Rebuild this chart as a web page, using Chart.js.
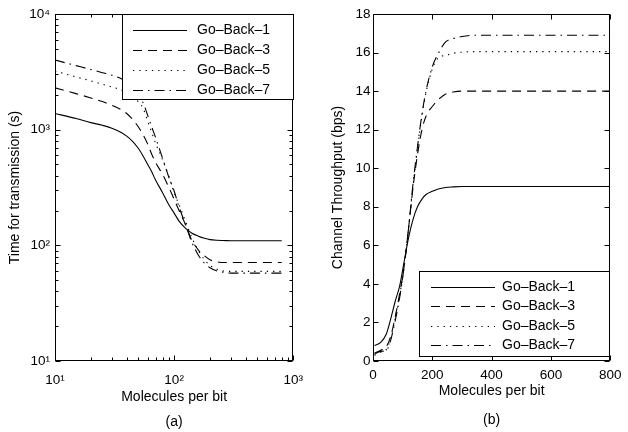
<!DOCTYPE html>
<html>
<head>
<meta charset="utf-8">
<script src="https://cdn.jsdelivr.net/npm/chart.js@4"></script>
<style>
html,body{margin:0;padding:0;background:#fff;}
#wrap{position:relative;width:628px;height:432px;overflow:hidden;background:#fff;}
canvas{position:absolute;top:0;}
#ca{left:0;}
#cb{left:314px;}
</style>
</head>
<body>
<div id="wrap">
<canvas id="ca" width="314" height="432"></canvas>
<canvas id="cb" width="314" height="432"></canvas>
</div>
<script>
// ---------- data: panel (a) ----------
const moleculesA = [10, 15, 20, 25, 30, 35, 40, 45, 50, 55, 60, 65, 70, 80, 90, 100, 110, 125, 140, 160, 180, 200, 230, 260, 300, 400, 600, 800];
const timeGB1 = [1380, 1250, 1150, 1090, 1030, 960, 880, 790, 690, 590, 500, 430, 365, 285, 225, 190, 162, 140, 128, 120, 115, 112, 110.5, 110, 109.5, 109.5, 109.5, 109.5];
const timeGB3 = [2300, 2050, 1880, 1750, 1620, 1510, 1380, 1220, 1060, 900, 750, 610, 520, 410, 320, 250, 200, 150, 112, 91, 81, 75, 72, 71, 71, 71, 71, 71];
const timeGB5 = [3210, 2860, 2640, 2470, 2340, 2230, 2080, 1900, 1750, 1520, 1180, 940, 760, 550, 400, 285, 225, 160, 118, 90, 75, 67, 62, 60, 59.5, 59.5, 59.5, 59.5];
const timeGB7 = [4000, 3580, 3310, 3110, 2960, 2800, 2600, 2350, 2050, 1700, 1330, 1050, 850, 565, 392, 295, 215, 150, 108, 82, 70, 64, 60, 58.5, 57.5, 57.5, 57.5, 57.5];

// ---------- data: panel (b) ----------
const moleculesB = [5, 25, 45, 60, 75, 90, 105, 120, 135, 150, 165, 180, 200, 220, 245, 270, 300, 350, 400, 500, 600, 700, 800];
const thrGB1 = [0.8, 0.95, 1.4, 2.2, 3.1, 3.9, 5.15, 6.4, 7.35, 8.0, 8.4, 8.65, 8.8, 8.92, 9.0, 9.03, 9.05, 9.05, 9.05, 9.05, 9.05, 9.05, 9.05];
const thrGB3 = [0.4, 0.55, 0.75, 1.3, 2.3, 3.5, 4.9, 6.9, 9.0, 10.7, 12.0, 12.75, 13.2, 13.55, 13.85, 13.95, 14.0, 14.0, 14.0, 14.0, 14.0, 14.0, 14.0];
const thrGB5 = [0.3, 0.45, 0.6, 1.2, 2.2, 3.4, 4.9, 6.9, 9.1, 11.0, 12.7, 14.0, 15.15, 15.72, 15.85, 15.96, 16.02, 16.05, 16.05, 16.05, 16.05, 16.05, 16.05];
const thrGB7 = [0.35, 0.5, 0.55, 1.1, 2.1, 3.3, 4.9, 6.9, 9.2, 11.1, 12.8, 14.1, 15.26, 15.95, 16.55, 16.72, 16.83, 16.9, 16.9, 16.9, 16.9, 16.9, 16.9];

// ---------- labels / ticks ----------
const seriesNames = ['Go\u2013Back\u20131', 'Go\u2013Back\u20133', 'Go\u2013Back\u20135', 'Go\u2013Back\u20137'];
const xTicksA = [10, 100, 1000];
const xTickLabelsA = ['10\u00B9', '10\u00B2', '10\u00B3'];
const yTicksA = [10, 100, 1000, 10000];
const yTickLabelsA = ['10\u00B9', '10\u00B2', '10\u00B3', '10\u2074'];
const xTicksB = [0, 200, 400, 600, 800];
const yTicksB = [0, 2, 4, 6, 8, 10, 12, 14, 16, 18];
const xTitleA = ['Molecules per bit', '(a)'];
const yTitleA = 'Time for transmission (s)';
const xTitleB = ['Molecules per bit', '(b)'];
const yTitleB = 'Channel Throughput (bps)';

// ---------- styles ----------
const dashes = [[], [9, 6], [1.3, 5], [10, 5, 1.5, 5]];
const FONT = "'Liberation Sans', Arial, Helvetica, sans-serif";
Chart.defaults.font.family = FONT;
Chart.defaults.color = '#000';

function minorLog(majors) {
  const out = [];
  for (let i = 0; i < majors.length - 1; i++) {
    for (let k = 2; k <= 9; k++) out.push(majors[i] * k);
  }
  return out;
}

const framePlugin = {
  id: 'frame',
  afterDatasetsDraw(chart, args, o) {
    const {ctx, chartArea: a} = chart;
    const xs = chart.scales.x, ys = chart.scales.y;
    const L = Math.round(a.left) + 0.5, R = Math.round(a.right) - 0.5;
    const T = Math.round(a.top) + 0.5, B = Math.round(a.bottom) - 0.5;
    ctx.save();
    ctx.strokeStyle = '#000';
    ctx.lineWidth = 1;
    ctx.setLineDash([]);
    ctx.beginPath();
    const tx = (vals, len) => {
      for (const v of vals) {
        const p = Math.round(xs.getPixelForValue(v)) + 0.5;
        ctx.moveTo(p, B); ctx.lineTo(p, B - len);
        ctx.moveTo(p, T); ctx.lineTo(p, T + len);
      }
    };
    const ty = (vals, len) => {
      for (const v of vals) {
        const p = Math.round(ys.getPixelForValue(v)) + 0.5;
        ctx.moveTo(L, p); ctx.lineTo(L + len, p);
        ctx.moveTo(R, p); ctx.lineTo(R - len, p);
      }
    };
    tx(o.xMajor, o.major); tx(o.xMinor || [], o.minor);
    ty(o.yMajor, o.major); ty(o.yMinor || [], o.minor);
    ctx.stroke();
    ctx.strokeRect(L, T, R - L, B - T);
    ctx.restore();
  }
};

const boxLegendPlugin = {
  id: 'boxLegend',
  afterDraw(chart, args, o) {
    const {ctx} = chart;
    ctx.save();
    ctx.fillStyle = '#fff';
    ctx.fillRect(o.left, o.top, o.width, o.height);
    ctx.strokeStyle = '#000';
    ctx.lineWidth = 1;
    ctx.setLineDash([]);
    ctx.strokeRect(Math.round(o.left) + 0.5, Math.round(o.top) + 0.5, Math.round(o.width) - 1, Math.round(o.height) - 1);
    ctx.font = '14px ' + FONT;
    ctx.textBaseline = 'middle';
    ctx.textAlign = 'left';
    ctx.fillStyle = '#000';
    chart.data.datasets.forEach((ds, i) => {
      const y = Math.round(o.top + o.rowStart + i * o.rowGap) + 0.5;
      ctx.beginPath();
      ctx.lineWidth = ds.borderWidth;
      ctx.setLineDash(ds.borderDash || []);
      ctx.moveTo(o.left + o.sampleFrom, y);
      ctx.lineTo(o.left + o.sampleTo, y);
      ctx.stroke();
      ctx.fillText(ds.label, o.left + o.textX, y);
    });
    ctx.restore();
  }
};

function makeDatasets(xs, series) {
  return series.map((ys, i) => ({
    label: seriesNames[i],
    data: xs.map((x, j) => ({x: x, y: ys[j]})),
    borderColor: '#000',
    backgroundColor: '#000',
    borderWidth: 1.1,
    borderDash: dashes[i],
    pointRadius: 0,
    fill: false,
    cubicInterpolationMode: 'monotone'
  }));
}

const commonPlugins = {
  legend: {display: false},
  tooltip: {enabled: false}
};

// ---------- panel (a) ----------
new Chart(document.getElementById('ca'), {
  type: 'line',
  data: {datasets: makeDatasets(moleculesA, [timeGB1, timeGB3, timeGB5, timeGB7])},
  options: {
    responsive: false,
    animation: false,
    devicePixelRatio: 1,
    layout: {padding: {left: 0, right: 18, top: 14, bottom: 0}},
    plugins: Object.assign({}, commonPlugins, {
      frame: {xMajor: xTicksA, xMinor: minorLog(xTicksA), yMajor: yTicksA, yMinor: minorLog(yTicksA), major: 5, minor: 3},
      boxLegend: {left: 122, top: 14, width: 172, height: 86, rowStart: 15.5, rowGap: 20.2, sampleFrom: 11, sampleTo: 65, textX: 75}
    }),
    scales: {
      x: {
        type: 'logarithmic', min: 10, max: 1000,
        afterBuildTicks: s => { s.ticks = xTicksA.map(v => ({value: v})); },
        afterFit: s => { s.height = 71; },
        grid: {display: false, drawTicks: false},
        border: {display: false},
        ticks: {callback: (v, i) => xTickLabelsA[i], padding: 11, autoSkip: false, maxRotation: 0, font: {size: 13.5}, color: '#000'},
        title: {display: true, text: xTitleA, color: '#000', font: {size: 14, lineHeight: 1.8}, padding: {top: 0, bottom: -3}}
      },
      y: {
        type: 'logarithmic', min: 10, max: 10000,
        afterBuildTicks: s => { s.ticks = yTicksA.map(v => ({value: v})); },
        afterFit: s => { s.width = 55; },
        grid: {display: false, drawTicks: false},
        border: {display: false},
        ticks: {callback: (v, i) => yTickLabelsA[i], padding: 5, autoSkip: false, font: {size: 13.5}, color: '#000'},
        title: {display: true, text: yTitleA, color: '#000', font: {size: 14}, padding: {top: 7, bottom: 0}}
      }
    }
  },
  plugins: [framePlugin, boxLegendPlugin]
});

// ---------- panel (b) ----------
new Chart(document.getElementById('cb'), {
  type: 'line',
  data: {datasets: makeDatasets(moleculesB, [thrGB1, thrGB3, thrGB5, thrGB7])},
  options: {
    responsive: false,
    animation: false,
    devicePixelRatio: 1,
    layout: {padding: {left: 0, right: 14, top: 14, bottom: 0}},
    plugins: Object.assign({}, commonPlugins, {
      frame: {xMajor: xTicksB, yMajor: yTicksB, major: 5, minor: 3},
      boxLegend: {left: 105, top: 271, width: 191, height: 86, rowStart: 15.5, rowGap: 19.6, sampleFrom: 12, sampleTo: 76, textX: 83}
    }),
    scales: {
      x: {
        type: 'linear', min: 0, max: 800,
        afterBuildTicks: s => { s.ticks = xTicksB.map(v => ({value: v})); },
        afterFit: s => { s.height = 71; },
        grid: {display: false, drawTicks: false},
        border: {display: false},
        ticks: {padding: 6.5, autoSkip: false, maxRotation: 0, font: {size: 13.5}, color: '#000'},
        title: {display: true, text: xTitleB, color: '#000', font: {size: 14, lineHeight: 2.07}, padding: {top: 0, bottom: -3}}
      },
      y: {
        type: 'linear', min: 0, max: 18,
        afterBuildTicks: s => { s.ticks = yTicksB.map(v => ({value: v})); },
        afterFit: s => { s.width = 59; },
        grid: {display: false, drawTicks: false},
        border: {display: false},
        ticks: {padding: 2.5, autoSkip: false, font: {size: 13.5}, color: '#000'},
        title: {display: true, text: yTitleB, color: '#000', font: {size: 14}, padding: {top: 16, bottom: 0}}
      }
    }
  },
  plugins: [framePlugin, boxLegendPlugin]
});
</script>
</body>
</html>
